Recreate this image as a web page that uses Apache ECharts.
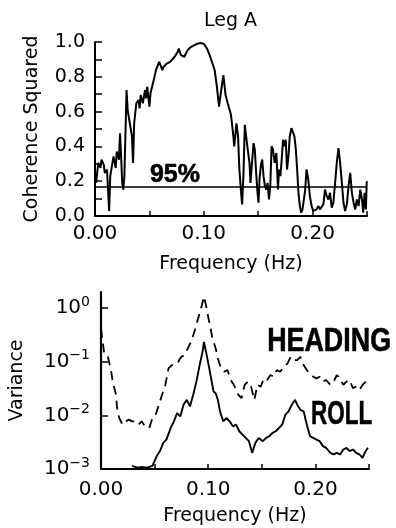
<!DOCTYPE html>
<html><head><meta charset="utf-8">
<script src="https://cdn.jsdelivr.net/npm/echarts@6/dist/echarts.min.js"></script>
<style>html,body{margin:0;padding:0;background:#fff}#c{width:396px;height:528px}</style>
</head><body><div id="c"></div>
<script>
// ---- Data ----
const titleText = 'Leg A';
const freqTicks = [0, 0.05, 0.10, 0.15, 0.20, 0.25];
const freqLabels = [0, 0.10, 0.20];
const cohTicks = [0, 0.1, 0.2, 0.3, 0.4, 0.5, 0.6, 0.7, 0.8, 0.9, 1.0];
const cohLabels = [0, 0.2, 0.4, 0.6, 0.8, 1.0];
const varTicks = [0.001, 0.01, 0.1, 1];
const threshold95 = 0.165;

// coherence squared: [frequency Hz, value]
const cohPoints = [
[0.001,0.19],[0.003,0.305],[0.005,0.276],[0.006,0.324],[0.008,0.295],[0.009,0.248],[0.011,0.267],[0.013,0.029],
[0.014,0.229],[0.015,0.267],[0.017,0.343],[0.019,0.276],[0.020,0.371],[0.022,0.324],[0.023,0.476],[0.024,0.343],
[0.025,0.19],[0.026,0.152],[0.027,0.229],[0.029,0.724],[0.030,0.61],[0.032,0.533],[0.034,0.457],[0.035,0.305],
[0.036,0.533],[0.038,0.648],[0.040,0.667],[0.041,0.619],[0.042,0.695],[0.044,0.648],[0.046,0.724],[0.047,0.676],
[0.048,0.743],[0.050,0.629],[0.051,0.705],[0.052,0.714],[0.054,0.781],[0.056,0.838],[0.057,0.848],[0.059,0.886],
[0.060,0.895],[0.062,0.838],[0.063,0.857],[0.066,0.876],[0.069,0.886],[0.073,0.914],[0.076,0.943],[0.077,0.962],
[0.079,0.924],[0.082,0.914],[0.085,0.952],[0.088,0.971],[0.091,0.981],[0.094,0.99],[0.097,0.994],[0.100,0.99],
[0.103,0.962],[0.106,0.914],[0.110,0.838],[0.112,0.743],[0.114,0.629],[0.116,0.724],[0.118,0.81],[0.120,0.695],
[0.122,0.648],[0.123,0.638],[0.125,0.581],[0.127,0.467],[0.128,0.40],[0.130,0.533],
[0.1315,0.457],[0.1327,0.267],[0.1343,0.133],[0.1352,0.067],[0.1364,0.229],[0.1377,0.524],[0.1389,0.457],[0.1404,0.381],
[0.142,0.305],[0.1429,0.19],[0.1444,0.181],[0.1457,0.419],[0.1469,0.381],[0.1481,0.248],[0.1494,0.133],[0.1503,0.076],
[0.1512,0.21],[0.1525,0.295],[0.1537,0.324],[0.1549,0.229],[0.1562,0.171],[0.1574,0.152],[0.1586,0.19],[0.1599,0.095],
[0.1611,0.171],[0.1623,0.40],[0.1636,0.381],[0.1651,0.305],[0.1667,0.362],[0.1682,0.152],[0.1691,0.267],[0.1704,0.229],
[0.1716,0.324],[0.1728,0.438],[0.1741,0.40],[0.1753,0.438],[0.1765,0.267],[0.1778,0.343],[0.179,0.457],[0.1806,0.505],
[0.1821,0.514],[0.1833,0.457],[0.1846,0.381],[0.1858,0.267],[0.187,0.133],[0.1883,0.057],[0.1895,0.019],[0.1907,0.038],
[0.192,0.095],[0.1932,0.152],[0.1944,0.267],[0.196,0.21],[0.1975,0.114],[0.1991,0.057],[0.2006,0.029],[0.2022,0.019],
[0.2037,0.038],[0.2052,0.057],[0.2068,0.038],[0.2083,0.029],[0.2099,0.067],[0.2114,0.152],[0.213,0.114],[0.2145,0.095],
[0.216,0.133],[0.2176,0.048],[0.2191,0.076],[0.2207,0.19],[0.2222,0.305],[0.2238,0.39],[0.2253,0.305],[0.2269,0.19],
[0.2284,0.076],[0.2299,0.029],[0.2315,0.067],[0.233,0.171],[0.2346,0.248],[0.2361,0.133],[0.2377,0.076],[0.2392,0.038],
[0.2407,0.095],[0.2423,0.057],[0.2438,0.152],[0.2454,0.095],[0.2465,0.019],[0.2478,0.133],[0.249,0.038],[0.2497,0.19],
[0.25,0.20]
];

// heading variance (dashed): [frequency Hz, variance]
const headingPoints = [
[0.000,0.414],[0.003,0.143],[0.006,0.133],[0.009,0.0753],[0.011,0.0426],[0.014,0.0242],[0.015,0.0137],[0.017,0.00893],
[0.020,0.00672],[0.023,0.00774],[0.026,0.00832],[0.029,0.00774],[0.032,0.00774],[0.035,0.00672],[0.038,0.00774],[0.041,0.00625],
[0.045,0.00582],[0.048,0.00893],[0.051,0.0103],[0.054,0.0158],[0.057,0.0242],[0.060,0.0370],[0.063,0.0753],[0.066,0.0867],
[0.069,0.0867],[0.072,0.100],[0.075,0.124],[0.078,0.133],[0.081,0.177],[0.084,0.235],[0.088,0.414],[0.091,0.681],
[0.094,1.12],[0.096,1.65],[0.098,1.12],[0.100,0.681],[0.102,0.445],[0.104,0.270],[0.107,0.177],[0.109,0.115],
[0.112,0.0753],[0.115,0.0653],[0.118,0.0701],[0.121,0.0457],[0.124,0.0370],[0.127,0.0259],[0.131,0.0209],[0.134,0.0370],
[0.137,0.0426],[0.140,0.0344],[0.143,0.0195],[0.146,0.0370],[0.149,0.0344],[0.152,0.0491],[0.155,0.0457],[0.158,0.0566],
[0.161,0.0527],[0.164,0.0701],[0.167,0.0653],[0.171,0.0808],[0.174,0.0931],[0.177,0.124],[0.180,0.107],[0.183,0.107],
[0.186,0.124],[0.189,0.0867],[0.192,0.0701],[0.195,0.0608],[0.198,0.0527],[0.201,0.0491],[0.204,0.0527],[0.207,0.0426],
[0.210,0.0457],[0.214,0.0370],[0.217,0.0426],[0.220,0.0566],[0.223,0.0491],[0.226,0.0370],[0.229,0.0426],[0.232,0.0457],
[0.235,0.0321],[0.238,0.0344],[0.241,0.0299],[0.244,0.0370],[0.247,0.0426]
];

// roll variance (solid): [frequency Hz, variance]
const rollPoints = [
[0.029,0.00114],[0.034,0.00106],[0.038,0.00109],[0.043,0.00106],[0.048,0.00114],[0.050,0.00141],[0.052,0.00174],[0.055,0.00216],
[0.058,0.00307],[0.061,0.00354],[0.065,0.00582],[0.068,0.00774],[0.071,0.0110],[0.074,0.00958],[0.077,0.0158],[0.080,0.0195],
[0.083,0.0147],[0.086,0.0242],[0.089,0.0426],[0.092,0.0867],[0.095,0.164],[0.096,0.235],[0.098,0.153],[0.101,0.0753],
[0.103,0.0457],[0.105,0.0278],[0.107,0.0259],[0.109,0.0195],[0.111,0.0119],[0.114,0.00774],[0.117,0.00893],[0.120,0.00774],
[0.123,0.00625],[0.126,0.00672],[0.129,0.00506],[0.132,0.00439],[0.135,0.00380],[0.138,0.00330],[0.141,0.00200],[0.144,0.00307],
[0.147,0.00380],[0.151,0.00330],[0.154,0.00380],[0.157,0.00408],[0.160,0.00471],[0.163,0.00506],[0.166,0.00582],[0.169,0.00672],
[0.172,0.0103],[0.175,0.0119],[0.178,0.0158],[0.181,0.0195],[0.183,0.0158],[0.186,0.0127],[0.189,0.0119],[0.192,0.00672],
[0.195,0.00408],[0.198,0.00380],[0.201,0.00354],[0.204,0.00330],[0.207,0.00267],[0.210,0.00248],[0.214,0.00200],[0.217,0.00187],
[0.220,0.00200],[0.223,0.00187],[0.226,0.00231],[0.229,0.00248],[0.232,0.00216],[0.235,0.00231],[0.238,0.00200],[0.241,0.00187],
[0.244,0.00162],[0.246,0.00200],[0.249,0.00248]
];

// annotation texts and their data-space anchors
const label95 = '95%';
const labelHeading = 'HEADING';
const labelRoll = 'ROLL';
const anchor95 = [0.0505, 0.236];
const anchorHeading = [0.155, 0.237];
const anchorRoll = [0.196, 0.0105];

// ---- Chart ----
const FF = 'DejaVu Sans';
const BLACK = '#000';
function xAxisCfg(gi, gap, margin) {
  return {
    type: 'value', gridIndex: gi, min: 0, max: 0.25,
    name: 'Frequency (Hz)', nameLocation: 'middle', nameGap: gap,
    nameTextStyle: {fontFamily: FF, fontSize: 19, color: BLACK},
    axisLine: {show: true, onZero: false, lineStyle: {color: BLACK, width: 2}},
    axisTick: {show: true, inside: true, length: 5, customValues: freqTicks, lineStyle: {color: BLACK, width: 1.5}},
    axisLabel: {customValues: freqLabels, formatter: v => v.toFixed(2), fontFamily: FF, fontSize: 20, color: BLACK, margin: margin},
    splitLine: {show: false}
  };
}
function logLabel(v) {
  const l = Math.log10(v);
  const e = Math.round(l);
  if (Math.abs(l - e) > 1e-6) return '';
  return '{b|10}{s|' + (e < 0 ? '\u2212' + (-e) : e) + '}';
}
const option = {
  animation: false,
  backgroundColor: '#fff',
  title: {text: titleText, left: 199, top: 7, textStyle: {fontFamily: FF, fontSize: 19, fontWeight: 'normal', color: BLACK}},
  grid: [
    {left: 95, top: 42, width: 272, height: 174},
    {left: 98, top: 292, width: 271, height: 177}
  ],
  xAxis: [xAxisCfg(0, 39, 8), xAxisCfg(1, 38, 11)],
  yAxis: [
    {
      type: 'value', gridIndex: 0, min: 0, max: 1,
      name: 'Coherence Squared', nameLocation: 'middle', nameGap: 53, nameRotate: 90,
      nameTextStyle: {fontFamily: FF, fontSize: 19, color: BLACK},
      axisLine: {show: true, onZero: false, lineStyle: {color: BLACK, width: 2}},
      axisTick: {show: true, inside: true, length: 7, customValues: cohTicks, lineStyle: {color: BLACK, width: 1.5}},
      axisLabel: {customValues: cohLabels, formatter: v => v.toFixed(1), fontFamily: FF, fontSize: 19, color: BLACK, margin: 10},
      splitLine: {show: false}
    },
    {
      type: 'log', logBase: 10, gridIndex: 1, min: 0.001, max: 2,
      name: 'Variance', nameLocation: 'middle', nameGap: 74, nameRotate: 90,
      nameTextStyle: {fontFamily: FF, fontSize: 19, color: BLACK},
      axisLine: {show: true, onZero: false, lineStyle: {color: BLACK, width: 2.2}},
      axisTick: {show: true, inside: true, length: 7, customValues: varTicks, lineStyle: {color: BLACK, width: 1.5}},
      axisLabel: {customValues: varTicks, formatter: logLabel, margin: 11,
        rich: {b: {fontFamily: FF, fontSize: 20, color: BLACK, lineHeight: 26},
               s: {fontFamily: FF, fontSize: 14, color: BLACK, verticalAlign: 'top'}}},
      splitLine: {show: false}
    }
  ],
  series: [
    {
      type: 'line', xAxisIndex: 0, yAxisIndex: 0, data: cohPoints, showSymbol: false,
      lineStyle: {color: BLACK, width: 2}, clip: true,
      markLine: {silent: true, symbol: 'none', label: {show: false},
        lineStyle: {color: BLACK, width: 1.6, type: 'solid'}, data: [{yAxis: threshold95}]}
    },
    {
      type: 'line', xAxisIndex: 1, yAxisIndex: 1, data: headingPoints, showSymbol: false,
      lineStyle: {color: BLACK, width: 1.8, type: [9, 6]}, clip: true
    },
    {
      type: 'line', xAxisIndex: 1, yAxisIndex: 1, data: rollPoints, showSymbol: false,
      lineStyle: {color: BLACK, width: 1.9}, clip: true
    }
  ]
};
const chart = echarts.init(document.getElementById('c'), null, {renderer: 'canvas'});
chart.setOption(option);

const p95 = chart.convertToPixel({gridIndex: 0}, anchor95);
const pH = chart.convertToPixel({gridIndex: 1}, anchorHeading);
const pR = chart.convertToPixel({gridIndex: 1}, anchorRoll);
function annot(p, txt, size, sx) {
  return {type: 'text', x: p[0], y: p[1], scaleX: sx, silent: true,
    style: {text: txt, fontFamily: 'Liberation Sans', fontWeight: 'bold', fontSize: size,
      fill: BLACK, stroke: BLACK, lineWidth: 0.6, align: 'left', verticalAlign: 'middle'}};
}
chart.setOption({graphic: [
  annot(p95, label95, 25, 1),
  annot(pH, labelHeading, 34, 0.79),
  annot(pR, labelRoll, 34, 0.66)
]});
</script></body></html>
